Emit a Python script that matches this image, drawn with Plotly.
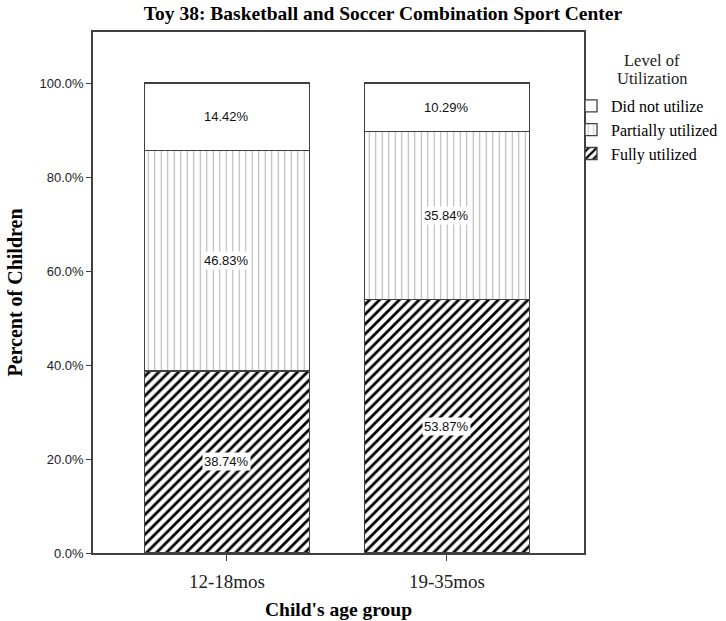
import plotly.graph_objects as go

# Categories and stacked percentages
age_groups = ["12-18mos", "19-35mos"]
fully_utilized = [38.74, 53.87]
partially_utilized = [46.83, 35.84]
did_not_utilize = [14.42, 10.29]

y_tick_values = [0, 20, 40, 60, 80, 100]
legend_heading = ["Level of", "Utilization"]

SERIF = "Liberation Serif, Times New Roman, serif"
SANS = "Liberation Sans, Arial, sans-serif"
EDGE = "#404040"

series = [
    ("Fully utilized", fully_utilized, dict(shape="/", size=7, solidity=0.4,
                                             fgcolor="black", fgopacity=1, bgcolor="white")),
    ("Partially utilized", partially_utilized, dict(shape="|", size=6.5, solidity=0.16,
                                                     fgcolor="#b3b3b3", fgopacity=1, bgcolor="white")),
    ("Did not utilize", did_not_utilize, dict(shape="", bgcolor="white")),
]

fig = go.Figure()
for name, values, pattern in series:
    fig.add_trace(go.Bar(
        x=[0, 1], y=values, name=name, width=0.75,
        marker=dict(color="white", line=dict(color=EDGE, width=1.3), pattern=pattern),
    ))

# Value labels centred in each stacked segment, on a white box
base = [0.0, 0.0]
for name, values, _ in series:
    for i, v in enumerate(values):
        fig.add_annotation(
            x=i, y=base[i] + v / 2, text=f"{v:.2f}%", showarrow=False,
            font=dict(family=SANS, size=13, color="#111111"),
            bgcolor="white", borderpad=1,
        )
        base[i] += v

# Legend heading, two centred lines above the entries
for k, line in enumerate(legend_heading):
    fig.add_annotation(
        xref="paper", yref="paper", x=(652 - 93) / 491, y=1 - (60 + 18 * k - 32) / 521,
        text=line, showarrow=False, xanchor="center", yanchor="middle",
        font=dict(family=SERIF, size=16.5, color="#222222"),
    )

fig.update_layout(
    barmode="stack",
    width=726, height=621,
    margin=dict(l=93, r=142, t=32, b=68, autoexpand=False),
    paper_bgcolor="white", plot_bgcolor="white",
    title=dict(
        text="<b>Toy 38: Basketball and Soccer Combination Sport Center</b>",
        font=dict(family=SERIF, size=19.5, color="black"),
        x=383 / 726, xanchor="center",
        y=1 - 13 / 621, yanchor="middle",
    ),
    legend=dict(
        font=dict(family=SERIF, size=16, color="black"),
        traceorder="reversed",
        xref="container", yref="container",
        x=571 / 726, xanchor="left", y=1 - 89 / 621, yanchor="top",
        itemwidth=30, tracegroupgap=0,
        bgcolor="rgba(0,0,0,0)",
    ),
    showlegend=True,
)

fig.update_xaxes(
    range=[-0.609, 1.623],
    tickvals=[0, 1], ticktext=age_groups,
    ticks="outside", ticklen=6, tickcolor=EDGE, tickwidth=1.3,
    ticklabelstandoff=4,
    tickfont=dict(family=SERIF, size=19, color="#222222"),
    showline=True, linecolor=EDGE, linewidth=1.5, mirror=True,
    showgrid=False, zeroline=False,
    title=dict(text="<b>Child's age group</b>",
               font=dict(family=SERIF, size=19.5, color="black"), standoff=12),
)
fig.update_yaxes(
    range=[0, 110.85],
    tickvals=y_tick_values, ticktext=[f"{v:.1f}%" for v in y_tick_values],
    ticks="outside", ticklen=5, tickcolor=EDGE, tickwidth=1.3,
    tickfont=dict(family=SANS, size=13, color="#222222"),
    showline=True, linecolor=EDGE, linewidth=1.5, mirror=True,
    showgrid=False, zeroline=False,
    title=dict(text="<b>Percent of Children</b>",
               font=dict(family=SERIF, size=20, color="black"), standoff=12),
)

fig.write_html("out.html")
